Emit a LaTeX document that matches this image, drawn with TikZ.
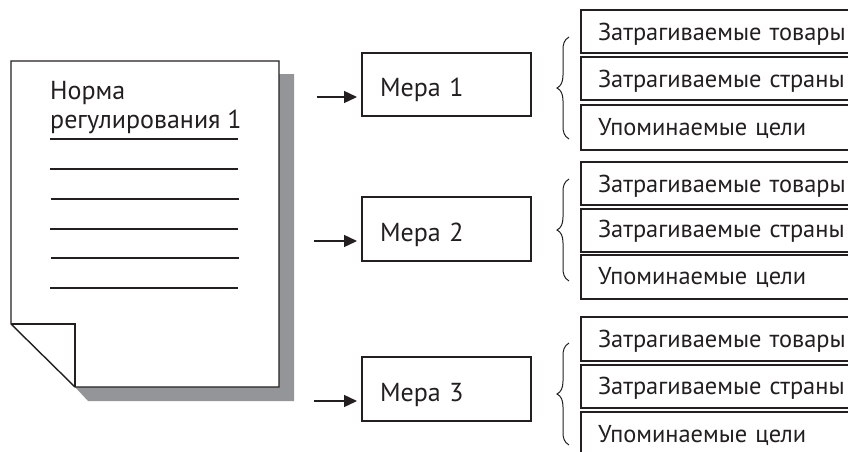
\documentclass[tikz,border=0pt]{standalone}
\usepackage{fontspec}
\setmainfont{PT Sans}
\usetikzlibrary{arrows.meta}
\definecolor{ink}{HTML}{231F20}
\definecolor{shadowgray}{HTML}{939598}
\tikzset{
  x=1pt,y=-1pt,
  ink line/.style={draw=ink,line width=1.4pt},
  txt/.style={font=\fontsize{24.4}{29}\selectfont,text=ink},
  bigtxt/.style={font=\fontsize{26}{29}\selectfont,text=ink},
  mera/.style={ink line,bigtxt,anchor=north west,outer sep=0pt,inner ysep=0pt,inner xsep=18pt,
     minimum width=169pt,text width=133pt,align=left,text height=#1pt,text depth=20pt},
  rowbox/.style 2 args={ink line,txt,anchor=north west,outer sep=0pt,inner ysep=0pt,inner xsep=17pt,
     text width=250pt,align=left,text height=#1pt,text depth=#2pt},
  arrowline/.style={draw=ink,line width=1.4pt,-{Triangle[length=13pt,width=12pt]},shorten >=5pt},
  rule/.style={draw=ink,line width=1.4pt},
  bracepath/.style={draw=ink,line width=1pt}
}
\begin{document}
\begin{tikzpicture}
\clip (0,0) rectangle (848,452);
\fill[white] (0,0) rectangle (848,452);
% shadow
\fill[shadowgray] (279,74) -- (294,74) -- (294,401) -- (88,401) -- (75,387) -- (279,387) -- cycle;
% page
\draw[ink line,fill=white,line join=miter] (11,324) -- (11,61) -- (279,61) -- (279,387) -- (75,387) -- cycle;
\draw[ink line,line join=miter] (11,324) -- (75,324) -- (75,387);
\node[bigtxt,anchor=north west,inner sep=0pt,align=left] (title) at (50,81) {Норма\\регулирования 1};
\foreach \a/\b/\yy in {50/238/139,50/238/169,51/239/199,50/238/229,51/239/258,50/238/288}
  \draw[rule] (\a,\yy) -- (\b,\yy);
% measures
\node[mera=43] (m1) at (362,53) {Мера 1};
\node[mera=44] (m2) at (362,197) {Мера 2};
\node[mera=44] (m3) at (362,357) {Мера 3};
\coordinate (a1) at (317,97);
\coordinate (a2) at (314,241);
\coordinate (a3) at (314,401);
\draw[arrowline] (a1) -- (a1 -| m1.west);
\draw[arrowline] (a2) -- (a2 -| m2.west);
\draw[arrowline] (a3) -- (a3 -| m3.west);
% rows
\node[rowbox={31}{12}] (r11) at (581,10) {Затрагиваемые товары};
\node[rowbox={30}{13}] (r12) at (581,57) {Затрагиваемые страны};
\node[rowbox={30}{15}] (r13) at (581,105) {Упоминаемые цели};
\node[rowbox={30}{13}] (r21) at (581,162) {Затрагиваемые товары};
\node[rowbox={28}{15}] (r22) at (581,209) {Затрагиваемые страны};
\node[rowbox={29}{15}] (r23) at (581,255) {Упоминаемые цели};
\node[rowbox={30}{14}] (r31) at (581,317) {Затрагиваемые товары};
\node[rowbox={29}{14}] (r32) at (581,365) {Затрагиваемые страны};
\node[rowbox={30}{15}] (r33) at (581,412) {Упоминаемые цели};
% braces
\foreach \t in {37,179,343}
  \draw[bracepath] (569,\t) .. controls (564,\t+3) and (563,\t+7) .. (563,\t+13)
    -- (563,\t+38) .. controls (563,\t+45) and (561,\t+49) .. (557,\t+51)
    .. controls (561,\t+53) and (563,\t+57) .. (563,\t+64)
    -- (563,\t+89) .. controls (563,\t+95) and (564,\t+99) .. (569,\t+102);
\end{tikzpicture}
\end{document}
